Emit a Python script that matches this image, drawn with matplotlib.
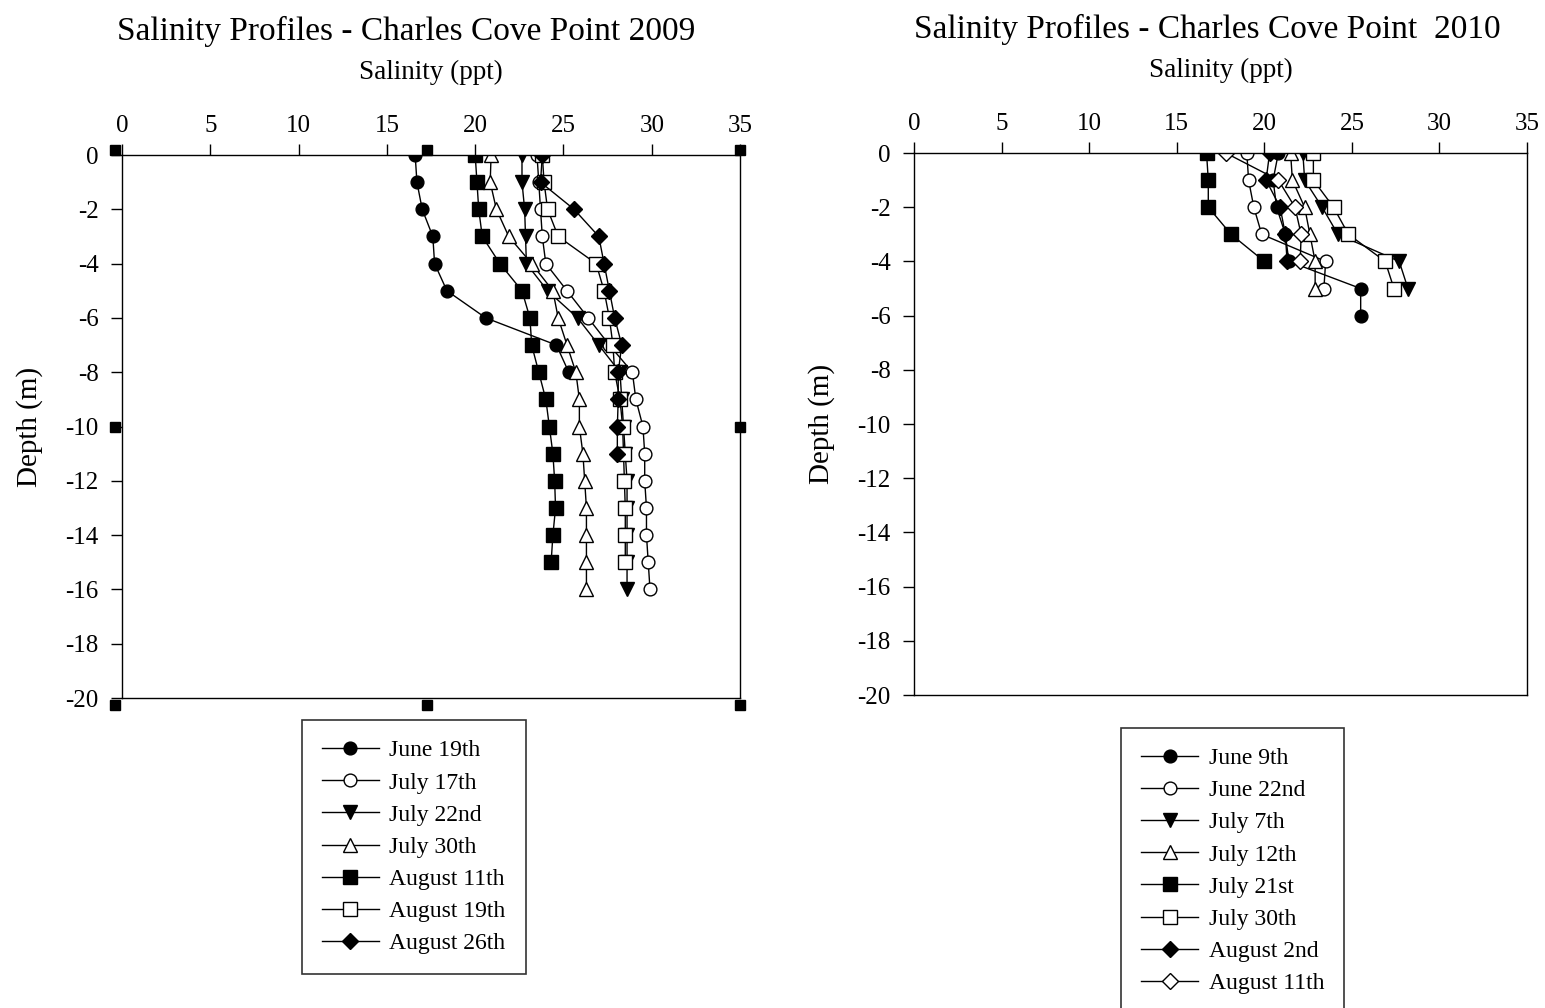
import numpy as np
import matplotlib
matplotlib.use('Agg')
import matplotlib.pyplot as plt

plt.rcParams['font.family'] = ['Liberation Serif', 'DejaVu Serif']
plt.rcParams['axes.unicode_minus'] = False

# depth (m), one reading per metre
depth = [0, -1, -2, -3, -4, -5, -6, -7, -8, -9, -10, -11, -12, -13, -14, -15, -16]

# 2009 salinity (ppt)
labels_2009 = ['June 19th', 'July 17th', 'July 22nd', 'July 30th',
               'August 11th', 'August 19th', 'August 26th']
jun19_09 = [16.6, 16.7, 17.0, 17.6, 17.7, 18.4, 20.6, 24.6, 25.3]
jul17_09 = [23.5, 23.6, 23.7, 23.8, 24.0, 25.2, 26.4, 27.6, 28.9, 29.1, 29.5,
            29.6, 29.6, 29.7, 29.7, 29.8, 29.9]
jul22_09 = [22.65, 22.65, 22.8, 22.85, 22.9, 24.1, 25.8, 27.0, 28.2, 28.3, 28.4,
            28.5, 28.6, 28.6, 28.6, 28.6, 28.6]
jul30_09 = [20.9, 20.85, 21.2, 21.9, 23.2, 24.4, 24.7, 25.2, 25.7, 25.9, 25.9,
            26.1, 26.2, 26.3, 26.3, 26.3, 26.3]
aug11_09 = [20.0, 20.1, 20.2, 20.4, 21.4, 22.65, 23.1, 23.2, 23.6, 24.0, 24.2,
            24.4, 24.5, 24.55, 24.4, 24.3]
aug19_09 = [23.8, 23.9, 24.1, 24.7, 26.85, 27.3, 27.6, 27.8, 27.9, 28.2, 28.35,
            28.4, 28.45, 28.5, 28.5, 28.5]
aug26_09 = [23.8, 23.7, 25.6, 27.0, 27.3, 27.6, 27.9, 28.3, 28.1, 28.1, 28.05, 28.05]

# 2010 salinity (ppt)
labels_2010 = ['June 9th', 'June 22nd', 'July 7th', 'July 12th',
               'July 21st', 'July 30th', 'August 2nd', 'August 11th']
jun09_10 = [20.8, 20.5, 20.7, 21.2, 21.4, 25.5, 25.5]
jun22_10 = [19.0, 19.1, 19.4, 19.85, 23.5, 23.4]
jul07_10 = [22.2, 22.3, 23.3, 24.2, 27.7, 28.2]
jul12_10 = [21.5, 21.6, 22.3, 22.6, 22.9, 22.9]
jul21_10 = [16.7, 16.8, 16.8, 18.1, 20.0]
jul30_10 = [22.8, 22.8, 23.95, 24.8, 26.9, 27.4]
aug02_10 = [20.3, 20.1, 20.9, 21.2, 21.3]
aug11_10 = [17.8, 20.8, 21.75, 22.1, 22.05]

styles = [('o', 'black'), ('o', 'white'), ('v', 'black'), ('^', 'white'),
          ('s', 'black'), ('s', 'white'), ('D', 'black'), ('D', 'white')]
msize = {'o': 11.5, 'v': 12.5, '^': 12.5, 's': 12, 'D': 10}

fig = plt.figure(figsize=(15.45, 10.08), dpi=100)
ax1 = fig.add_axes([0.0790, 0.3075, 0.4000, 0.5387])
ax2 = fig.add_axes([0.5916, 0.3105, 0.3968, 0.5377])


def draw(ax, series, labels, title, title_x, leg_anchor):
    for (vals, lab, (m, fc)) in zip(series, labels, styles):
        ax.plot(vals, depth[:len(vals)], color='black', lw=1.0, marker=m,
                ms=msize[m], mfc=fc, mec='black', mew=1.0, label=lab)
    ax.set_xlim(0, 35)
    ax.set_ylim(-20, 0)
    ax.set_xticks(np.arange(0, 36, 5))
    ax.set_yticks(np.arange(-20, 1, 2))
    ax.xaxis.tick_top()
    ax.tick_params(axis='both', direction='out', length=8, width=1.0,
                   labelsize=18)
    ax.tick_params(axis='y', pad=9)
    ax.tick_params(axis='x', pad=5)
    for sp in ax.spines.values():
        sp.set_linewidth(1.0)
    ax.set_ylabel('Depth (m)', fontsize=21, labelpad=16)
    ax.set_xlabel('Salinity (ppt)', fontsize=19.5, labelpad=26)
    ax.xaxis.set_label_position('top')
    ax.set_title(title, fontsize=24, pad=14, x=title_x)
    handles, labs = ax.get_legend_handles_labels()
    for h in handles:
        h.set_markersize(h.get_markersize() * 0.8)
    leg = ax.legend(handles, labs, loc='upper left', bbox_to_anchor=leg_anchor,
                    fontsize=17, frameon=True, fancybox=False, edgecolor='black',
                    handlelength=2.4, labelspacing=0.45, borderpad=0.85,
                    handletextpad=0.45, borderaxespad=0)
    leg.get_frame().set_linewidth(1.2)


draw(ax1, [jun19_09, jul17_09, jul22_09, jul30_09, aug11_09, aug19_09, aug26_09],
     labels_2009, 'Salinity Profiles - Charles Cove Point 2009', 0.459, (0.291, -0.04))
draw(ax2, [jun09_10, jun22_10, jul07_10, jul12_10, jul21_10, jul30_10, aug02_10, aug11_10],
     labels_2010, 'Salinity Profiles - Charles Cove Point  2010', 0.478, (0.338, -0.06))

# selection handles around the left plot area
hx = [-0.011, 0.493, 1.0, -0.011, 1.0, -0.011, 0.493, 1.0]
hy = [1.009, 1.009, 1.009, 0.5, 0.5, -0.013, -0.013, -0.013]
ax1.plot(hx, hy, 's', color='black', ms=6.5, transform=ax1.transAxes, clip_on=False)

plt.savefig('out.png', dpi=100)
